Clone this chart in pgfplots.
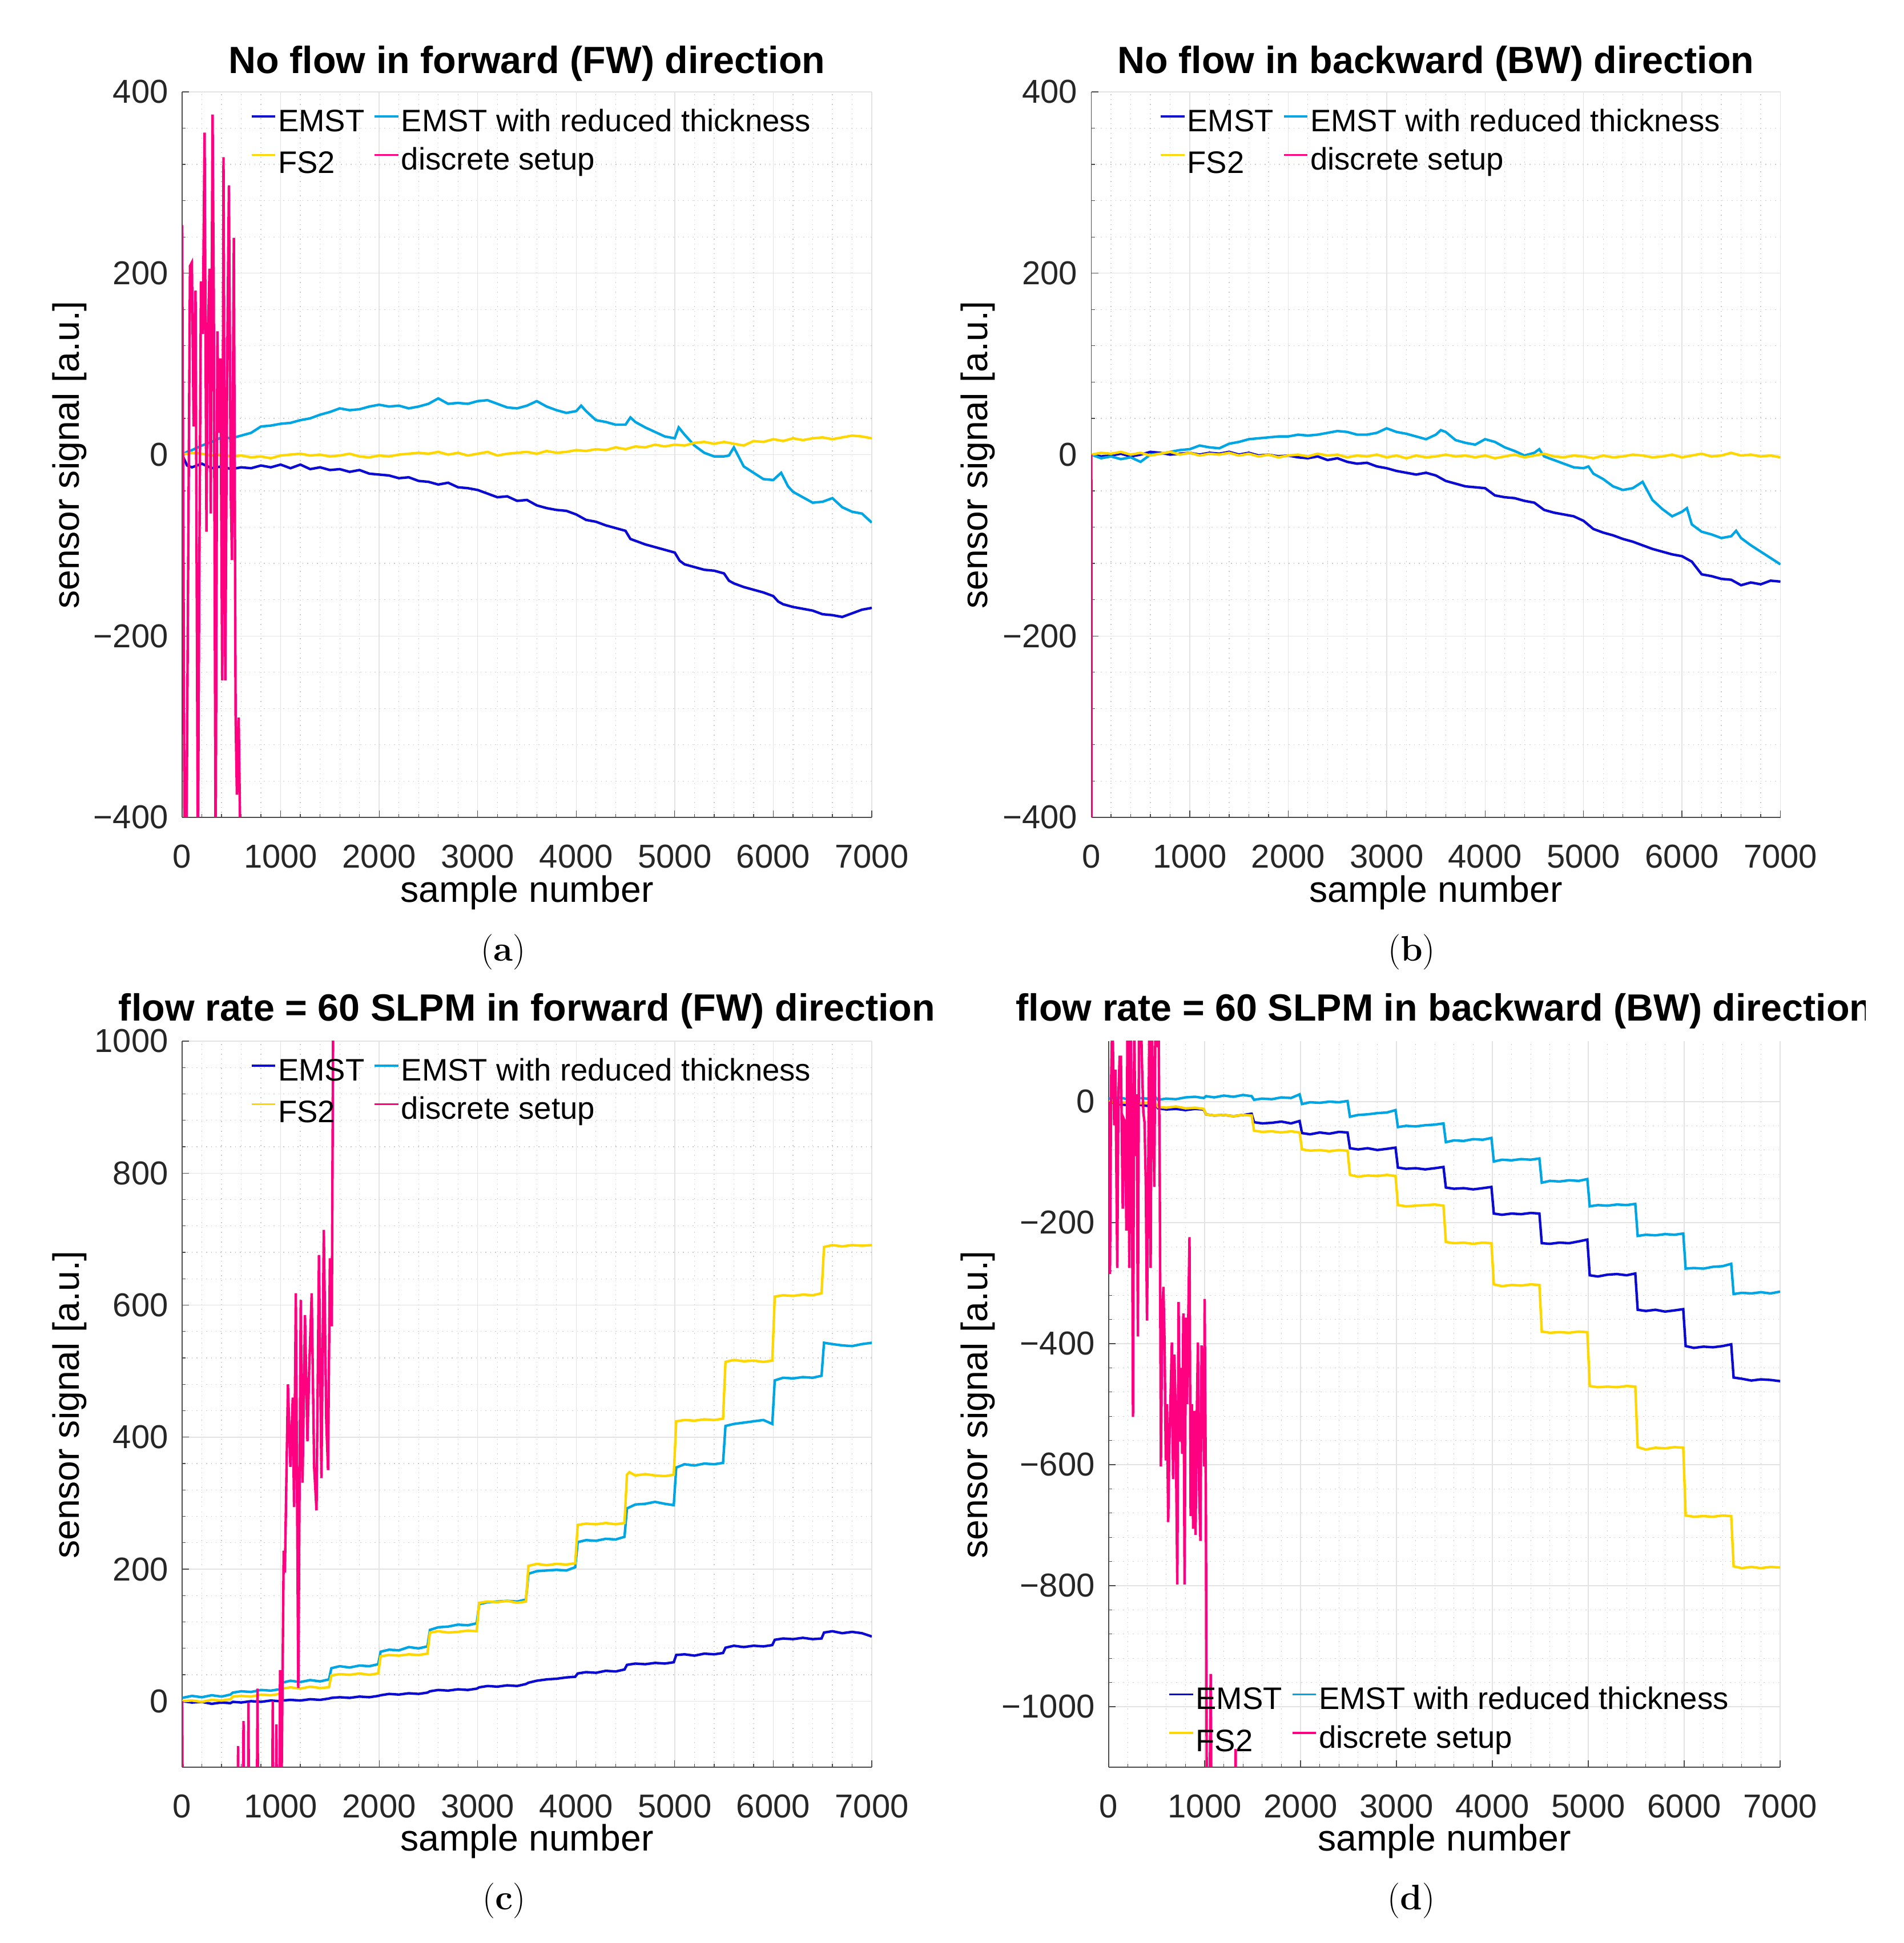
\documentclass[border=0pt]{standalone}
\usepackage{pgfplots}
\pgfplotsset{compat=1.18}
\usepackage{fontspec}
\newfontfamily\hv{Liberation Sans}
\definecolor{cEMST}{RGB}{10,10,210}
\definecolor{cRed}{RGB}{0,165,228}
\definecolor{cFS}{RGB}{255,215,0}
\definecolor{cDis}{RGB}{255,0,128}
\pgfplotsset{
  legend image code/.code={\draw[#1, line width=1pt] (0mm,1.5mm) -- (4.17mm,1.5mm);},
  panel/.style={
    scale only axis, anchor=south west,
    axis lines=left,
    axis line style={-, draw=black!70, line width=0.35pt},
    tick align=inside,
    major tick length=1.2mm, minor tick length=0.6mm,
    tick style={draw=black!70, line width=0.35pt},
    grid=both,
    major grid style={draw=black!11, line width=0.4pt},
    minor grid style={draw=black!22, dotted, line width=0.35pt},
    minor tick num=4,
    xmin=0, xmax=7000,
    xtick={0,1000,2000,3000,4000,5000,6000,7000},
    xticklabels={0,1000,2000,3000,4000,5000,6000,7000},
    ticklabel style={font=\hv\fontsize{16.5}{19}\selectfont, text=black!85},
    xticklabel style={yshift=-3.6mm},
    yticklabel style={xshift=-1.2mm},
    legend columns=2,
    legend cell align=left,
    legend style={draw=none, fill=none, inner sep=0pt, outer sep=0pt,
       font=\hv\fontsize{15.5}{18}\selectfont,
       nodes={inner sep=0.3mm, text height=4.2mm, text depth=1.94mm},
       /tikz/every even column/.append style={column sep=1.3mm}},
    every axis plot/.append style={line width=1.25pt, mark=none},
  },
}
\newcommand{\leg}{\legend{EMST, EMST with reduced thickness, \raisebox{-0.6mm}{FS2}, discrete setup}}
\begin{document}
\begin{tikzpicture}[x=1mm,y=1mm]
\path[use as bounding box] (0,0) rectangle (333.4,340.4);

% ---------------- (a) ----------------
\begin{axis}[panel, at={(31.9mm,197.2mm)}, width=120.8mm, height=127.1mm,
  ymin=-400, ymax=400, ytick={-400,-200,0,200,400},
  yticklabels={−400,−200,0,200,400},
  legend style={at={(0.0993,0.9808)}, anchor=north west}]
\addplot[cEMST] coordinates {(0,0) (50,-12) (100,-14) (200,-10) (300,-15) (400,-13) (500,-16) (600,-14) (700,-15) (800,-12) (900,-14) (1000,-11) (1100,-15) (1200,-11) (1300,-16) (1400,-14) (1500,-17) (1600,-16) (1700,-19) (1800,-17) (1900,-21) (2000,-22) (2100,-23) (2200,-26) (2300,-25) (2400,-29) (2500,-30) (2600,-33) (2700,-31) (2800,-36) (2900,-37) (3000,-39) (3100,-43) (3200,-47) (3300,-46) (3400,-51) (3500,-50) (3600,-56) (3700,-59) (3800,-61) (3900,-62) (4000,-66) (4100,-72) (4200,-74) (4300,-78) (4400,-81) (4500,-84) (4550,-93) (4600,-95) (4700,-99) (4800,-102) (4900,-105) (5000,-108) (5050,-117) (5100,-121) (5200,-124) (5300,-127) (5400,-128) (5500,-131) (5550,-139) (5600,-142) (5700,-146) (5800,-149) (5900,-152) (6000,-156) (6050,-162) (6100,-165) (6200,-168) (6300,-170) (6400,-172) (6500,-176) (6600,-177) (6700,-179) (6800,-175) (6900,-171) (7000,-169)};
\addplot[cRed] coordinates {(0,0) (50,3) (100,5) (200,10) (300,14) (400,19) (500,18) (600,21) (700,24) (800,31) (900,32) (1000,34) (1100,35) (1200,38) (1300,40) (1400,44) (1500,47) (1600,51) (1700,49) (1800,50) (1900,53) (2000,55) (2100,53) (2200,54) (2300,51) (2400,53) (2500,56) (2600,62) (2700,56) (2800,57) (2900,56) (3000,59) (3100,60) (3200,56) (3300,52) (3400,51) (3500,54) (3600,59) (3700,53) (3800,49) (3900,46) (4000,48) (4050,54) (4100,48) (4200,38) (4300,36) (4400,33) (4500,33) (4550,41) (4600,36) (4700,30) (4800,25) (4900,20) (5000,18) (5040,30) (5100,22) (5200,10) (5300,2) (5400,-2) (5500,-2) (5550,-1) (5600,8) (5700,-13) (5800,-20) (5900,-27) (6000,-28) (6080,-20) (6150,-35) (6200,-41) (6300,-47) (6400,-53) (6500,-52) (6600,-48) (6700,-58) (6800,-63) (6900,-65) (7000,-75)};
\addplot[cFS] coordinates {(0,0) (100,2) (200,1) (300,-1) (400,0) (500,-2) (600,-1) (700,-3) (800,-2) (900,-4) (1000,-1) (1100,0) (1200,1) (1300,-1) (1400,0) (1500,-2) (1600,-1) (1700,1) (1800,-2) (1900,-3) (2000,-1) (2100,-2) (2200,0) (2300,1) (2400,2) (2500,1) (2600,3) (2700,0) (2800,2) (2900,-1) (3000,1) (3100,3) (3200,-1) (3300,1) (3400,2) (3500,3) (3600,1) (3700,4) (3800,2) (3900,3) (4000,5) (4100,4) (4200,6) (4300,5) (4400,8) (4500,6) (4600,9) (4700,8) (4800,11) (4900,9) (5000,11) (5100,10) (5200,13) (5300,14) (5400,12) (5500,14) (5600,12) (5700,10) (5800,15) (5900,14) (6000,17) (6100,15) (6200,18) (6300,16) (6400,18) (6500,19) (6600,17) (6700,19) (6800,21) (6900,20) (7000,18)};
\addplot[cDis] coordinates {(0,253) (25,-450) (43,-450) (80,208) (99,212) (117,31) (136,181) (160,-450) (173,-157) (191,191) (210,133) (228,355) (247,-85) (259,120) (278,205) (290,-65) (309,375) (321,174) (340,-450) (358,136) (370,24) (389,106) (407,-249) (420,328) (438,-249) (457,92) (475,297) (494,-44) (506,-116) (525,239) (543,-290) (556,-375) (574,-290) (593,-450)};
\leg
\end{axis}

% ---------------- (b) ----------------
\begin{axis}[panel, at={(191.15mm,197.2mm)}, width=120.7mm, height=127.1mm,
  ymin=-400, ymax=400, ytick={-400,-200,0,200,400},
  yticklabels={−400,−200,0,200,400},
  legend style={at={(0.0993,0.9808)}, anchor=north west}]
\addplot[cEMST] coordinates {(0,0) (100,-2) (200,-1) (300,1) (400,-2) (500,0) (600,3) (700,2) (800,0) (900,1) (1000,2) (1100,0) (1200,2) (1300,1) (1400,3) (1500,0) (1600,2) (1700,-1) (1800,0) (1900,-2) (2000,-1) (2100,-3) (2200,-4) (2300,-2) (2400,-6) (2500,-4) (2600,-8) (2700,-10) (2800,-9) (2900,-13) (3000,-15) (3100,-18) (3200,-20) (3300,-22) (3400,-20) (3500,-23) (3600,-29) (3700,-32) (3800,-35) (3900,-36) (4000,-37) (4100,-45) (4200,-47) (4300,-48) (4400,-51) (4500,-53) (4600,-61) (4700,-64) (4800,-66) (4900,-68) (5000,-73) (5100,-82) (5200,-86) (5300,-89) (5400,-93) (5500,-96) (5600,-100) (5700,-104) (5800,-107) (5900,-110) (6000,-112) (6100,-118) (6200,-132) (6300,-134) (6400,-137) (6500,-138) (6600,-144) (6700,-141) (6800,-143) (6900,-139) (7000,-140)};
\addplot[cRed] coordinates {(0,0) (100,-4) (200,-2) (300,-5) (400,-3) (500,-8) (600,0) (700,1) (800,3) (900,5) (1000,6) (1100,10) (1200,8) (1300,7) (1400,12) (1500,14) (1600,17) (1700,18) (1800,19) (1900,20) (2000,20) (2100,22) (2200,21) (2300,22) (2400,24) (2500,26) (2600,25) (2700,22) (2800,22) (2900,24) (3000,29) (3100,25) (3200,23) (3300,20) (3400,17) (3500,22) (3550,27) (3600,25) (3700,16) (3800,13) (3900,11) (4000,17) (4100,14) (4200,8) (4300,4) (4400,-1) (4500,2) (4550,6) (4600,-2) (4700,-6) (4800,-10) (4900,-14) (5000,-15) (5050,-13) (5100,-21) (5200,-27) (5300,-35) (5400,-39) (5500,-37) (5600,-30) (5700,-50) (5800,-60) (5900,-68) (6000,-63) (6050,-59) (6100,-77) (6200,-85) (6300,-88) (6400,-92) (6500,-90) (6550,-84) (6600,-92) (6700,-100) (6800,-107) (6900,-114) (7000,-121)};
\addplot[cFS] coordinates {(0,0) (100,2) (200,1) (300,3) (400,0) (500,2) (600,-1) (700,1) (800,3) (900,0) (1000,2) (1100,-1) (1200,1) (1300,0) (1400,2) (1500,-1) (1600,1) (1700,-2) (1800,0) (1900,-3) (2000,-1) (2100,0) (2200,-2) (2300,1) (2400,-1) (2500,0) (2600,-3) (2700,-1) (2800,-2) (2900,0) (3000,-3) (3100,-1) (3200,-4) (3300,-1) (3400,-3) (3500,-2) (3600,0) (3700,-2) (3800,-1) (3900,-3) (4000,-1) (4100,-4) (4200,-2) (4300,0) (4400,-3) (4500,-1) (4600,1) (4700,-2) (4800,-3) (4900,-1) (5000,-2) (5100,-4) (5200,-1) (5300,-3) (5400,-2) (5500,0) (5600,-1) (5700,-3) (5800,-2) (5900,0) (6000,-3) (6100,-1) (6200,1) (6300,-2) (6400,-1) (6500,2) (6600,-1) (6700,0) (6800,-2) (6900,-1) (7000,-3)};
\addplot[cDis] coordinates {(0,0) (3,-600)};
\leg
\end{axis}

% ---------------- (c) ----------------
\begin{axis}[panel, at={(31.9mm,30.8mm)}, width=120.8mm, height=127.2mm,
  ymin=-100, ymax=1000, ytick={0,200,400,600,800,1000},
  yticklabels={0,200,400,600,800,1000},
  legend style={at={(0.0993,0.9808)}, anchor=north west}]
\addplot[cEMST] coordinates {(0,0) (100,-2) (200,-1) (300,-4) (400,-2) (490,-3) (515,-1) (600,-2) (700,0) (800,-1) (900,1) (990,0) (1015,1) (1100,2) (1200,1) (1300,3) (1400,2) (1490,4) (1515,5) (1600,6) (1700,5) (1800,7) (1900,6) (1990,8) (2015,9) (2100,11) (2200,10) (2300,12) (2400,11) (2490,13) (2515,15) (2600,17) (2700,16) (2800,18) (2900,17) (2990,19) (3015,21) (3100,23) (3200,22) (3300,24) (3400,23) (3490,26) (3515,28) (3600,31) (3700,33) (3800,34) (3900,36) (3990,37) (4015,42) (4100,44) (4200,43) (4300,46) (4400,45) (4490,48) (4515,55) (4600,57) (4700,56) (4800,58) (4900,57) (4990,59) (5015,70) (5100,71) (5200,69) (5300,72) (5400,71) (5490,73) (5515,81) (5600,84) (5700,82) (5800,84) (5900,83) (5990,85) (6015,93) (6100,95) (6200,94) (6300,96) (6400,94) (6490,95) (6515,104) (6600,106) (6700,103) (6800,105) (6900,103) (7000,98)};
\addplot[cRed] coordinates {(0,5) (100,8) (200,6) (300,9) (400,7) (490,10) (515,13) (600,15) (700,14) (800,17) (900,16) (990,18) (1015,28) (1100,31) (1200,29) (1300,32) (1400,30) (1490,33) (1515,50) (1600,53) (1700,51) (1800,54) (1900,53) (1990,56) (2015,75) (2100,78) (2200,77) (2300,82) (2400,80) (2490,83) (2515,108) (2600,112) (2700,113) (2800,116) (2900,115) (2990,118) (3015,147) (3100,150) (3200,151) (3300,152) (3400,151) (3490,154) (3515,193) (3600,197) (3700,198) (3800,199) (3900,198) (3990,203) (4015,241) (4100,244) (4200,243) (4300,246) (4400,245) (4490,249) (4515,292) (4600,298) (4700,299) (4800,302) (4900,299) (4990,297) (5015,354) (5100,359) (5200,357) (5300,360) (5400,359) (5490,361) (5515,417) (5600,420) (5700,422) (5800,424) (5900,426) (5990,420) (6015,486) (6100,490) (6200,489) (6300,491) (6400,490) (6490,493) (6515,543) (6600,541) (6700,539) (6800,538) (6900,541) (7000,543)};
\addplot[cFS] coordinates {(0,0) (100,1) (200,-1) (300,2) (400,1) (490,3) (515,7) (600,8) (700,7) (800,10) (900,9) (990,11) (1015,19) (1100,21) (1200,19) (1300,22) (1400,20) (1490,21) (1515,39) (1600,41) (1700,40) (1800,42) (1900,40) (1990,42) (2015,68) (2100,70) (2200,69) (2300,71) (2400,70) (2490,72) (2515,104) (2600,106) (2700,104) (2800,105) (2900,107) (2990,106) (3015,149) (3100,151) (3200,150) (3300,152) (3400,149) (3490,151) (3515,205) (3600,208) (3700,206) (3800,208) (3900,207) (3990,209) (4015,267) (4100,269) (4200,268) (4300,270) (4400,268) (4490,270) (4515,343) (4540,347) (4600,342) (4700,344) (4800,342) (4900,341) (4990,343) (5015,424) (5100,426) (5200,425) (5300,427) (5400,426) (5490,428) (5515,514) (5600,517) (5700,515) (5800,516) (5900,514) (5990,516) (6015,613) (6100,615) (6200,614) (6300,616) (6400,615) (6490,618) (6515,688) (6600,691) (6700,689) (6800,691) (6900,690) (7000,691)};
\addplot[cDis] coordinates {(0,0) (10,-300) (560,-300) (568,-68) (578,-300) (615,-300) (623,-30) (633,-300) (665,-300) (673,-2) (683,-300) (755,-300) (765,19) (775,-300) (910,-300) (920,0) (930,-300) (948,-300) (957,-35) (967,-300) (985,-300) (994,47) (1008,-150) (1031,228) (1043,195) (1074,480) (1099,355) (1123,460) (1136,294) (1154,618) (1179,20) (1204,608) (1222,331) (1247,585) (1272,394) (1290,505) (1315,618) (1340,355) (1364,289) (1389,676) (1414,338) (1438,714) (1463,425) (1481,350) (1500,671) (1519,568) (1535,1100)};
\leg
\end{axis}

% ---------------- (d) ----------------
\begin{axis}[panel, at={(194.2mm,30.8mm)}, width=117.6mm, height=127.2mm,
  ymin=-1100, ymax=100, ytick={-1000,-800,-600,-400,-200,0},
  yticklabels={−1000,−800,−600,−400,−200,0},
  legend style={at={(0.0887,0.1148)}, anchor=north west}]
\addplot[cEMST] coordinates {(0,0) (100,-4) (200,-6) (300,-5) (400,-7) (490,-6) (515,-11) (600,-13) (700,-12) (800,-14) (900,-12) (990,-13) (1015,-21) (1100,-23) (1200,-22) (1300,-24) (1400,-22) (1490,-20) (1515,-34) (1600,-36) (1700,-35) (1800,-33) (1900,-36) (1990,-32) (2015,-52) (2100,-54) (2200,-51) (2300,-53) (2400,-50) (2490,-51) (2515,-77) (2600,-79) (2700,-77) (2800,-80) (2900,-78) (2990,-76) (3015,-109) (3100,-111) (3200,-110) (3300,-112) (3400,-110) (3490,-108) (3515,-142) (3600,-144) (3700,-143) (3800,-145) (3900,-143) (3990,-141) (4015,-185) (4100,-187) (4200,-185) (4300,-186) (4400,-184) (4490,-185) (4515,-234) (4600,-235) (4700,-233) (4800,-234) (4900,-231) (4990,-228) (5015,-287) (5100,-289) (5200,-286) (5300,-285) (5400,-287) (5490,-284) (5515,-344) (5600,-346) (5700,-344) (5800,-347) (5900,-345) (5990,-343) (6015,-404) (6100,-407) (6200,-405) (6300,-406) (6400,-404) (6490,-401) (6515,-456) (6600,-458) (6700,-461) (6800,-459) (6900,-460) (7000,-462)};
\addplot[cRed] coordinates {(0,5) (100,7) (200,4) (300,6) (400,5) (490,7) (515,3) (600,5) (700,4) (800,7) (900,8) (990,6) (1015,9) (1100,7) (1200,10) (1300,8) (1400,11) (1490,9) (1515,3) (1600,5) (1700,4) (1800,7) (1900,6) (1990,12) (2015,-4) (2100,-1) (2200,-2) (2300,0) (2400,-1) (2490,1) (2515,-25) (2600,-22) (2700,-21) (2800,-19) (2900,-18) (2990,-14) (3015,-42) (3100,-40) (3200,-41) (3300,-39) (3400,-38) (3490,-36) (3515,-67) (3600,-64) (3700,-65) (3800,-62) (3900,-63) (3990,-60) (4015,-99) (4100,-96) (4200,-97) (4300,-95) (4400,-96) (4490,-94) (4515,-134) (4600,-131) (4700,-132) (4800,-130) (4900,-131) (4990,-128) (5015,-173) (5100,-171) (5200,-172) (5300,-170) (5400,-171) (5490,-169) (5515,-222) (5600,-220) (5700,-221) (5800,-219) (5900,-220) (5990,-218) (6015,-276) (6100,-275) (6200,-276) (6300,-273) (6400,-272) (6490,-268) (6515,-318) (6600,-316) (6700,-317) (6800,-315) (6900,-317) (7000,-314)};
\addplot[cFS] coordinates {(0,0) (100,-2) (200,-1) (300,-3) (400,-2) (490,-3) (515,-9) (600,-10) (700,-8) (800,-11) (900,-10) (990,-12) (1015,-21) (1100,-23) (1200,-22) (1300,-24) (1400,-22) (1490,-23) (1515,-48) (1600,-50) (1700,-49) (1800,-51) (1900,-49) (1990,-51) (2015,-79) (2100,-81) (2200,-80) (2300,-82) (2400,-80) (2490,-81) (2515,-121) (2600,-124) (2700,-122) (2800,-123) (2900,-121) (2990,-123) (3015,-171) (3100,-173) (3200,-172) (3300,-171) (3400,-170) (3490,-172) (3515,-232) (3600,-234) (3700,-233) (3800,-235) (3900,-233) (3990,-234) (4015,-302) (4100,-305) (4200,-303) (4300,-304) (4400,-302) (4490,-303) (4515,-380) (4600,-382) (4700,-381) (4800,-382) (4900,-380) (4990,-381) (5015,-470) (5100,-472) (5200,-471) (5300,-472) (5400,-470) (5490,-471) (5515,-571) (5600,-575) (5700,-572) (5800,-573) (5900,-571) (5990,-572) (6015,-684) (6100,-686) (6200,-685) (6300,-686) (6400,-684) (6490,-685) (6515,-768) (6600,-771) (6700,-769) (6800,-771) (6900,-769) (7000,-770)};
\addplot[cDis] coordinates {(0,0) (13,-285) (25,33) (38,150) (57,-39) (70,53) (89,-275) (101,12) (114,74) (127,74) (146,-177) (158,-29) (171,-34) (184,-213) (196,150) (215,-275) (228,150) (241,-65) (253,-521) (266,150) (278,-90) (291,12) (304,-388) (316,150) (335,150) (348,53) (361,-18) (373,-34) (386,-131) (399,-362) (411,-141) (424,150) (437,-275) (449,150) (462,0) (475,-141) (487,150) (500,90) (519,150) (532,-131) (544,-603) (557,-357) (570,-306) (582,-398) (595,-593) (608,-500) (620,-695) (633,-562) (646,-480) (658,-398) (671,-624) (684,-418) (696,-500) (715,-798) (728,-331) (741,-562) (753,-440) (766,-582) (778,-350) (791,-798) (804,-357) (816,-500) (829,-360) (842,-224) (854,-685) (867,-500) (880,-706) (892,-511) (905,-716) (918,-521) (930,-398) (943,-644) (956,-726) (968,-403) (981,-429) (994,-603) (1000,-326) (1013,-654) (1025,-1300) (1044,-1300) (1063,-946) (1076,-1300) (1310,-1300) (1323,-1070) (1330,-1300)};
\leg
\end{axis}

% ---------------- texts ----------------
\begin{scope}[every node/.style={font=\hv\bfseries\fontsize{18.9}{22}\selectfont, anchor=base}]
\node at (92.3,327.5) {No flow in forward (FW) direction};
\node at (251.5,327.5) {No flow in backward (BW) direction};
\node at (92.3,161.5) {flow rate = 60 SLPM in forward (FW) direction};
\begin{scope}
\clip (170,150) rectangle (326.77,175);
\node at (253.0,161.5) {flow rate = 60 SLPM in backward (BW) direction};
\end{scope}
\end{scope}
\begin{scope}[every node/.style={font=\hv\fontsize{18.3}{22}\selectfont, anchor=base}]
\node at (92.3,182.3) {sample number};
\node at (251.5,182.3) {sample number};
\node at (92.3,16.1) {sample number};
\node at (253.0,16.1) {sample number};
\node[rotate=90] at (13.8,260.7) {sensor signal [a.u.]};
\node[rotate=90] at (172.9,260.7) {sensor signal [a.u.]};
\node[rotate=90] at (13.8,94.3) {sensor signal [a.u.]};
\node[rotate=90] at (172.9,94.3) {sensor signal [a.u.]};
\end{scope}
\begin{scope}[every node/.style={font=\fontsize{17.7}{21}\selectfont, anchor=base}]
\node at (88.15,172.0) {(\textbf{a})};
\node at (247.25,172.0) {(\textbf{b})};
\node at (88.3,5.8) {(\textbf{c})};
\node at (247.2,5.8) {(\textbf{d})};
\end{scope}
\end{tikzpicture}
\end{document}
